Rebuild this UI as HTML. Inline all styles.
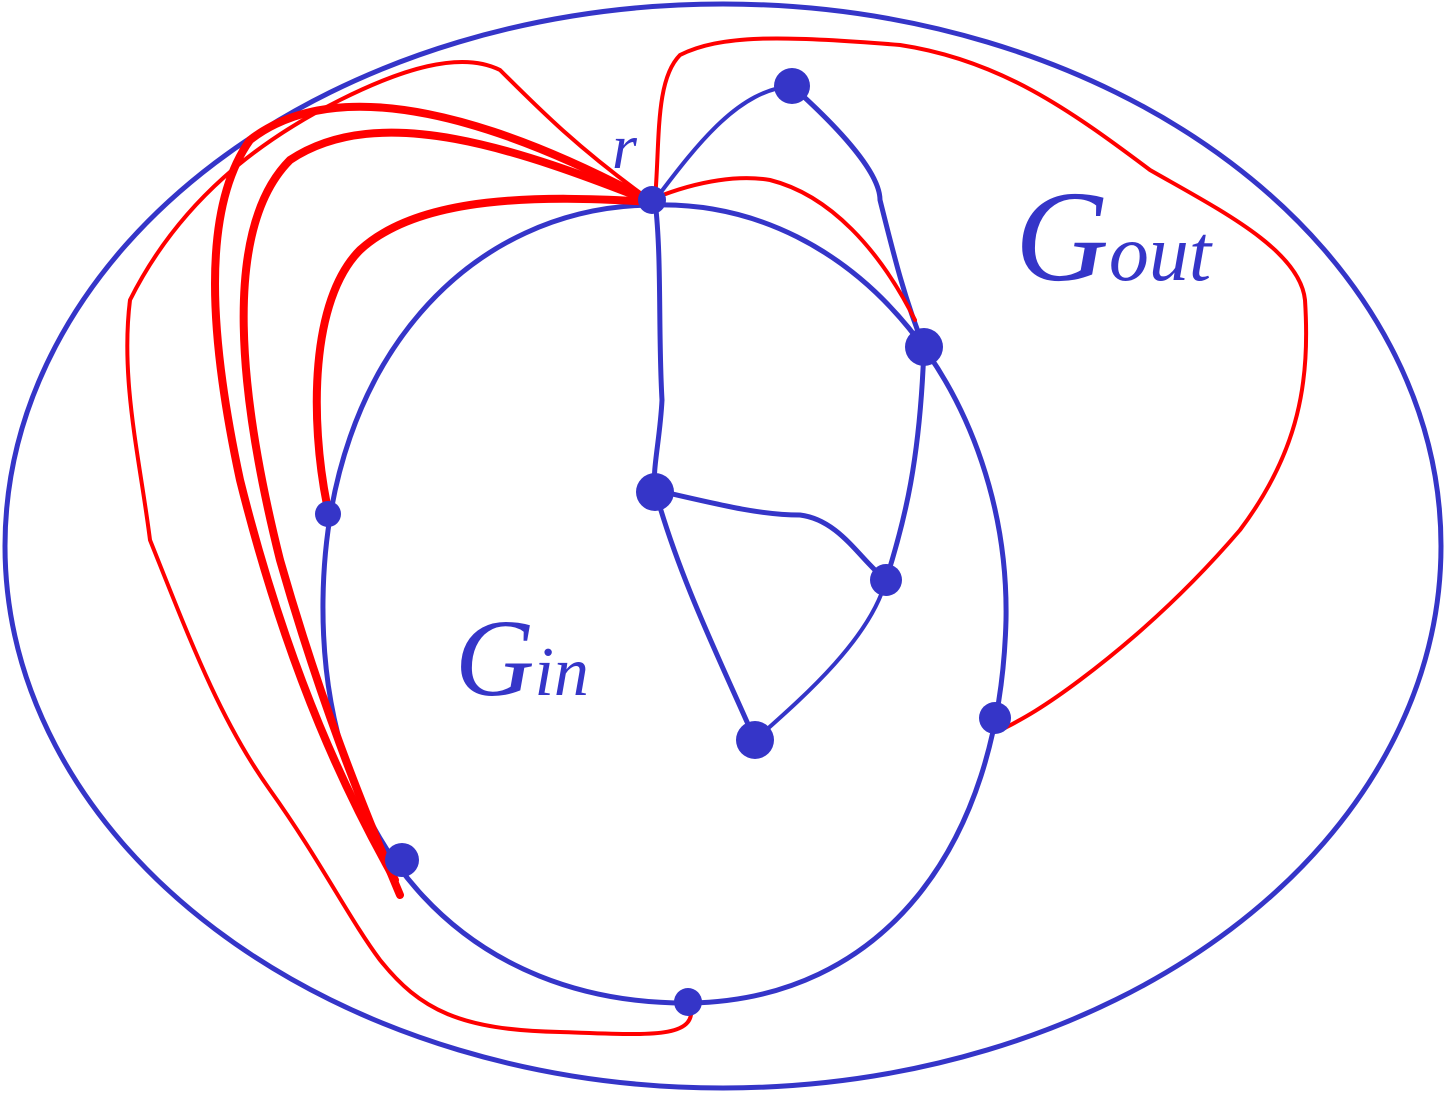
<!DOCTYPE html>
<html><head><meta charset="utf-8"><style>
html,body{margin:0;padding:0;background:#fff;}
svg{display:block}
</style></head><body>
<svg width="1444" height="1094" viewBox="0 0 1444 1094">
<g fill="none" stroke-linecap="round" stroke-linejoin="round">
  <ellipse cx="723" cy="546" rx="718" ry="542" stroke="#3535c8" stroke-width="5"/>
  <path d="M655,205 C860,200 1010,400 1006,620 C1000,850 880,1000 690,1003 C470,1005 320,850 323,600 C326,360 470,205 655,205 Z" stroke="#3535c8" stroke-width="5"/>
  <path d="M655,200 C700,140 740,90 792,86" stroke="#3535c8" stroke-width="4"/>
  <path d="M792,86 C830,120 880,170 880,200 C895,260 905,300 924,347" stroke="#3535c8" stroke-width="5"/>
  <path d="M655,200 C662,260 658,330 662,400 C660,440 652,470 655,490" stroke="#3535c8" stroke-width="5"/>
  <path d="M655,490 C720,505 760,515 800,515 C840,520 860,560 886,580" stroke="#3535c8" stroke-width="5"/>
  <path d="M886,580 C905,520 920,460 924,347" stroke="#3535c8" stroke-width="5"/>
  <path d="M655,490 C680,580 720,660 755,740" stroke="#3535c8" stroke-width="5"/>
  <path d="M755,740 C800,700 870,640 886,580" stroke="#3535c8" stroke-width="4"/>

  <path d="M650,200 C580,150 540,110 500,70 C460,50 400,70 340,100 C260,140 180,200 130,300 C120,380 140,460 150,540 C190,640 220,720 270,790 C320,860 350,920 380,960 C420,1010 460,1030 560,1032 C650,1035 700,1040 690,1003" stroke="#f00" stroke-width="4"/>
  <path d="M655,200 C660,140 655,80 680,55 C720,35 780,35 900,45 C1000,60 1070,110 1150,170 C1220,210 1300,250 1305,300 C1310,380 1300,450 1240,530 C1180,600 1120,650 1080,680 C1040,710 1020,720 1005,728" stroke="#f00" stroke-width="4"/>
  <path d="M655,198 C700,180 740,175 770,180 C830,195 880,250 915,320" stroke="#f00" stroke-width="4"/>
  <path d="M652,202 C540,195 420,195 360,250 C310,300 310,420 327,505" stroke="#f00" stroke-width="8"/>
  <path d="M652,202 C520,150 380,100 290,160 C220,230 240,400 280,560 C320,700 360,800 400,895" stroke="#f00" stroke-width="8"/>
  <path d="M652,202 C500,120 340,70 250,140 C200,210 210,340 240,480 C290,680 350,800 395,880" stroke="#f00" stroke-width="8"/>

  <g fill="#3535c8" stroke="none">
    <circle cx="652" cy="200" r="14"/>
    <circle cx="792" cy="86" r="18"/>
    <circle cx="924" cy="347" r="19"/>
    <circle cx="655" cy="492" r="19"/>
    <circle cx="886" cy="580" r="16"/>
    <circle cx="755" cy="740" r="19"/>
    <circle cx="328" cy="514" r="13"/>
    <circle cx="402" cy="860" r="17"/>
    <circle cx="995" cy="718" r="16"/>
    <circle cx="688" cy="1002" r="14"/>
  </g>
</g>
<text x="612" y="168" font-family="Liberation Serif, serif" font-style="italic" font-size="64" fill="#3535c8">r</text>
<text x="455" y="695" font-family="Liberation Serif, serif" font-style="italic" font-size="110" fill="#3535c8">G<tspan font-size="70">in</tspan></text>
<text x="1015" y="280" font-family="Liberation Serif, serif" font-style="italic" font-size="130" fill="#3535c8">G<tspan font-size="80">out</tspan></text>
</svg>
</body></html>
